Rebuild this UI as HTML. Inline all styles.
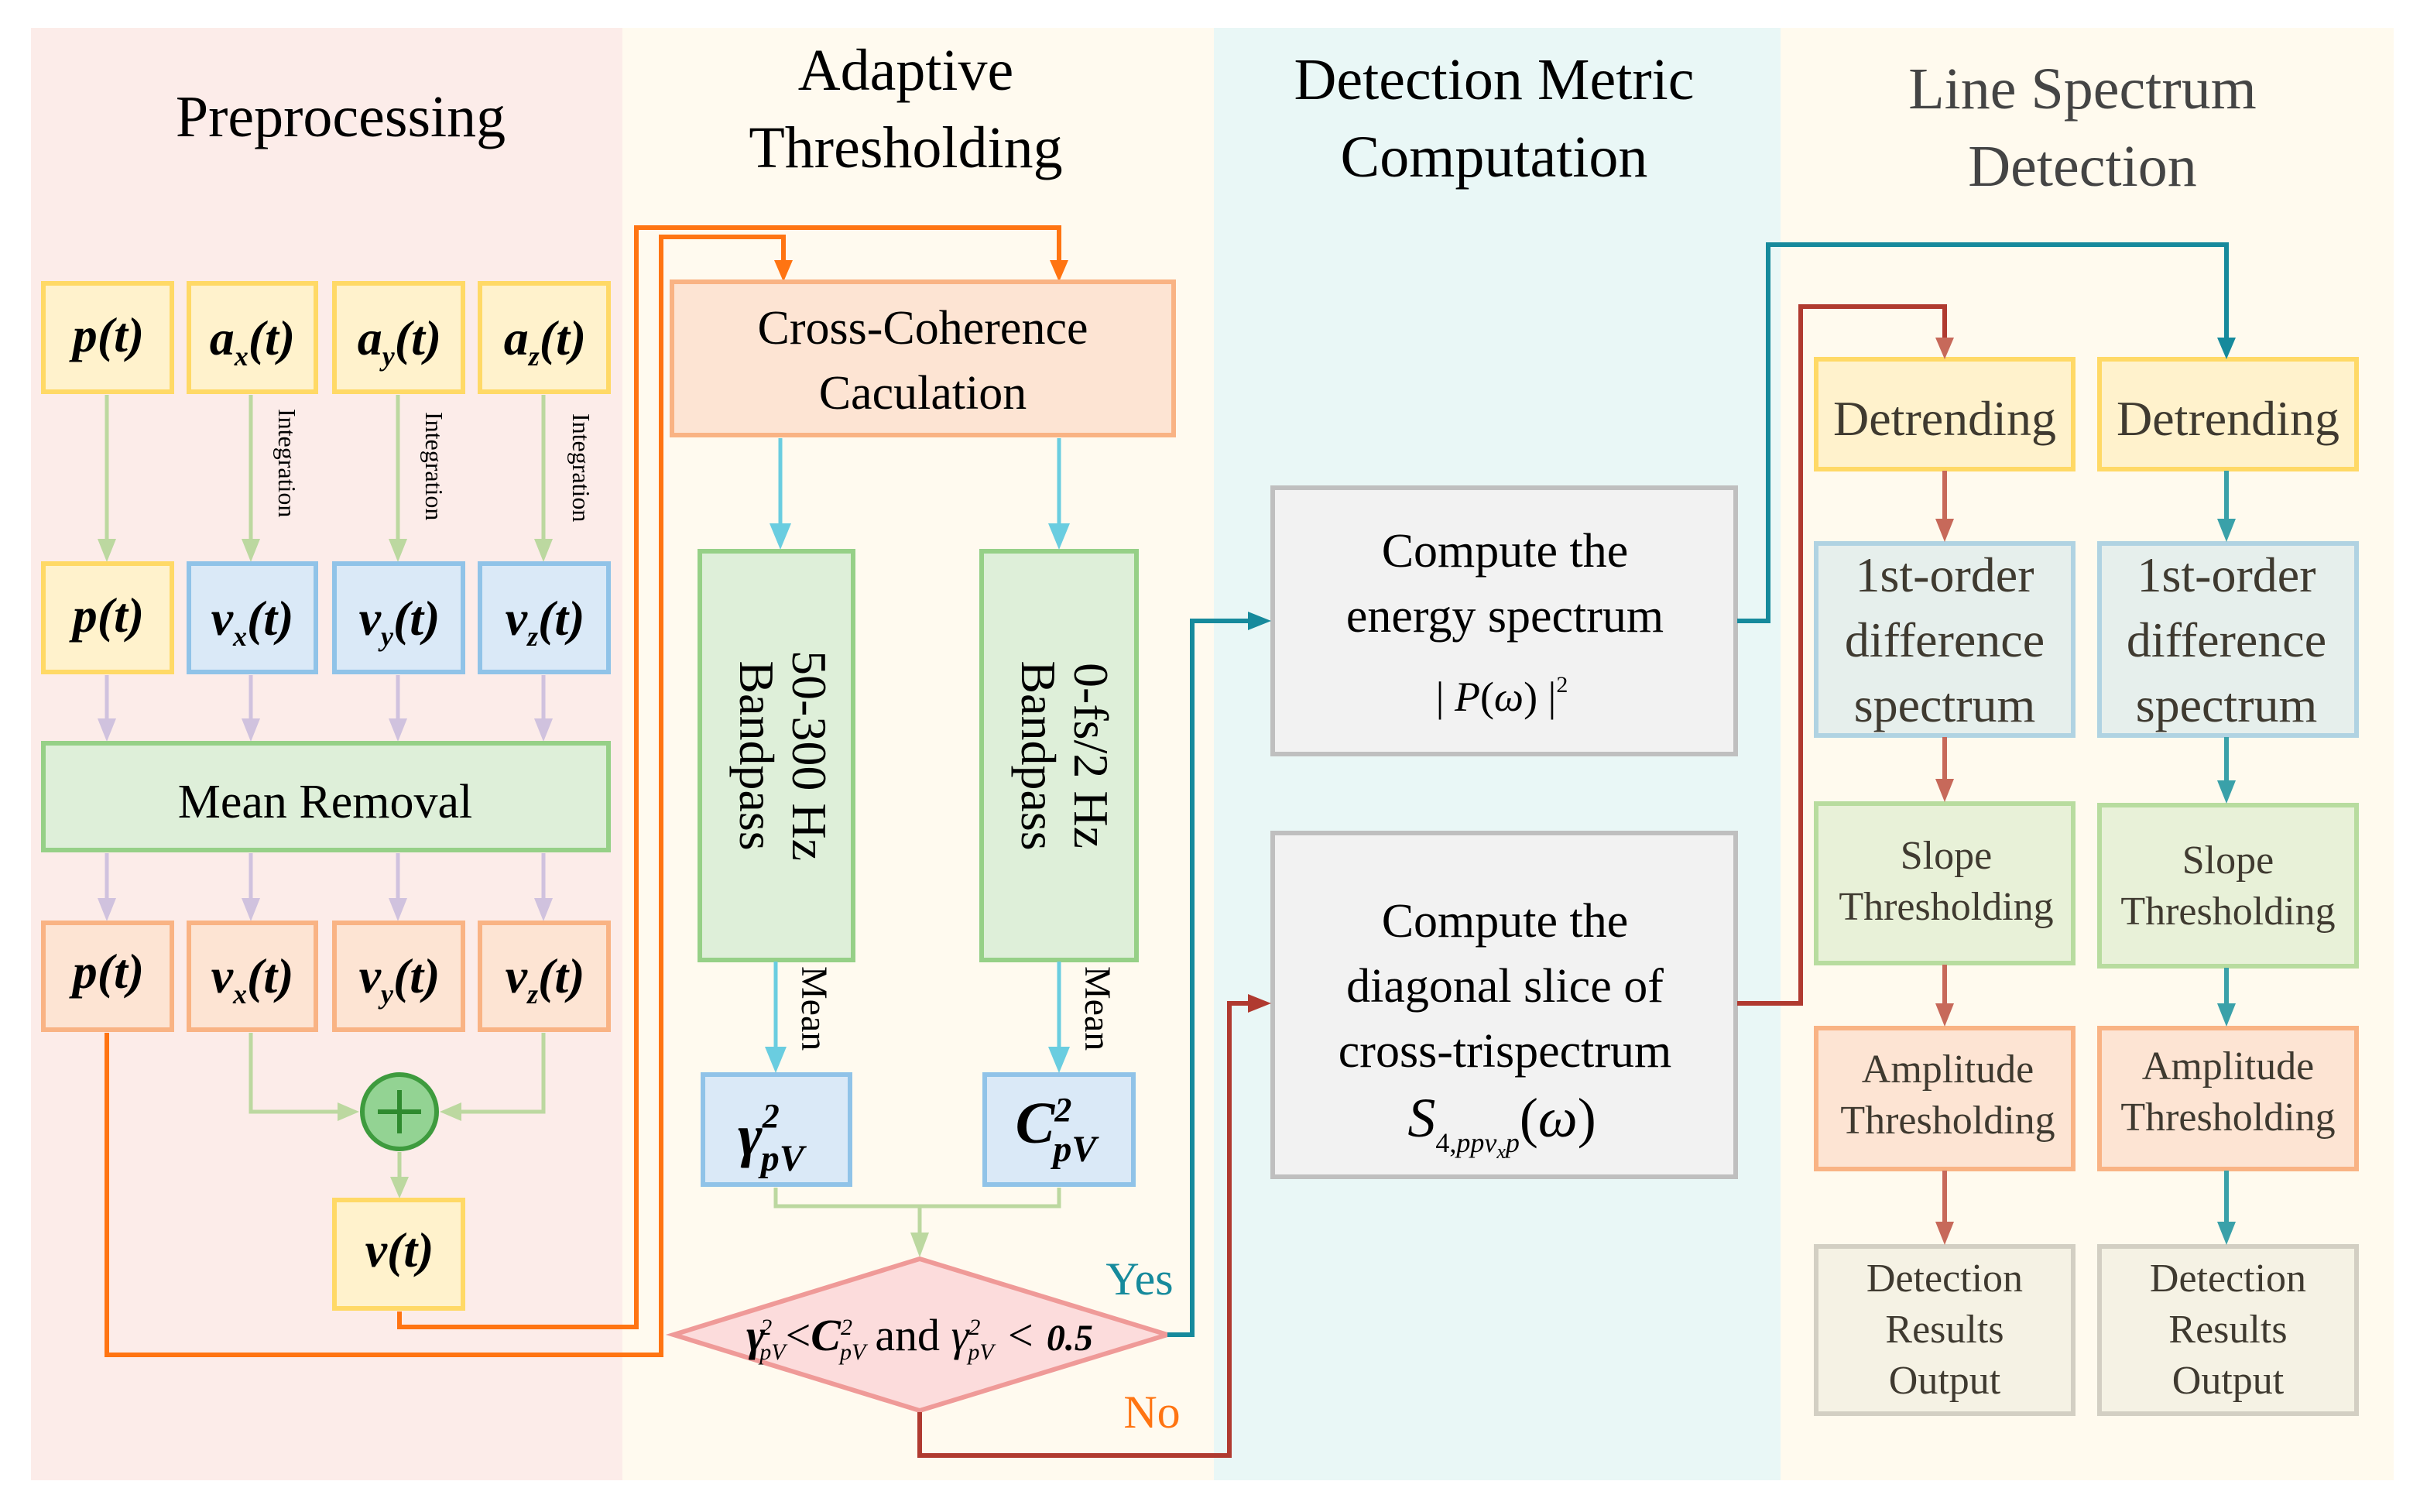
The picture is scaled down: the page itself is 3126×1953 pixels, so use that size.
<!DOCTYPE html>
<html><head><meta charset="utf-8"><style>
html,body{margin:0;padding:0;background:#fff;}
svg{display:block;}
svg, svg text{font-family:"Liberation Serif","Times New Roman",Tinos,Times,"DejaVu Serif",serif;}
</style></head><body>
<svg width="3126" height="1953" viewBox="0 0 1563 976.5" xmlns="http://www.w3.org/2000/svg" font-family="'Liberation Serif','Times New Roman',Times,serif">
<rect width="1563" height="977" fill="#fff"/>
<rect x="20" y="18" width="382" height="938" fill="#fcece9"/>
<rect x="402" y="18" width="382" height="938" fill="#fffaef"/>
<rect x="784" y="18" width="366" height="938" fill="#e9f7f6"/>
<rect x="1150" y="18" width="396" height="938" fill="#fffaee"/>

<g font-size="38" text-anchor="middle" fill="#000">
<text x="220" y="88">Preprocessing</text>
<text x="585" y="58">Adaptive</text>
<text x="585" y="108">Thresholding</text>
<text x="965" y="64">Detection Metric</text>
<text x="965" y="114">Computation</text>
<text x="1345" y="70" fill="#444">Line Spectrum</text>
<text x="1345" y="120" fill="#444">Detection</text>
</g>

<g stroke="#bcd8a0" stroke-width="2.5" fill="none">
<line x1="69" y1="255" x2="69" y2="350"/><line x1="162" y1="255" x2="162" y2="350"/><line x1="257" y1="255" x2="257" y2="350"/><line x1="351" y1="255" x2="351" y2="350"/>
<polyline points="162,667 162,718 222,718"/><polyline points="351,667 351,718 294,718"/>
<line x1="258" y1="744" x2="258" y2="762"/>
<polyline points="501,767 501,779 684,779 684,767"/><line x1="594" y1="779" x2="594" y2="800"/>
</g>
<g fill="#bcd8a0">
<path d="M63,348 L75,348 L69,363z"/><path d="M156,348 L168,348 L162,363z"/><path d="M251,348 L263,348 L257,363z"/><path d="M345,348 L357,348 L351,363z"/>
<path d="M218,712 L218,724 L232,718z"/><path d="M298,712 L298,724 L284,718z"/>
<path d="M252,760 L264,760 L258,774z"/><path d="M588,796 L600,796 L594,812z"/>
</g>
<g stroke="#d0c2de" stroke-width="2.5">
<line x1="69" y1="436" x2="69" y2="467"/><line x1="162" y1="436" x2="162" y2="467"/><line x1="257" y1="436" x2="257" y2="467"/><line x1="351" y1="436" x2="351" y2="467"/>
<line x1="69" y1="551" x2="69" y2="583"/><line x1="162" y1="551" x2="162" y2="583"/><line x1="257" y1="551" x2="257" y2="583"/><line x1="351" y1="551" x2="351" y2="583"/>
</g>
<g fill="#d0c2de">
<path d="M63,464 L75,464 L69,479z"/><path d="M156,464 L168,464 L162,479z"/><path d="M251,464 L263,464 L257,479z"/><path d="M345,464 L357,464 L351,479z"/>
<path d="M63,580 L75,580 L69,595z"/><path d="M156,580 L168,580 L162,595z"/><path d="M251,580 L263,580 L257,595z"/><path d="M345,580 L357,580 L351,595z"/>
</g>
<g font-size="16" fill="#000">
<text transform="translate(180,264) rotate(90)">Integration</text>
<text transform="translate(275,266) rotate(90)">Integration</text>
<text transform="translate(370,267) rotate(90)">Integration</text>
</g>

<g stroke="#ff7412" stroke-width="3" fill="none">
<polyline points="69,667 69,875 427,875 427,153 506,153 506,170"/>
<polyline points="258,847 258,857 411,857 411,147 684,147 684,170"/>
</g>
<g fill="#ff7412"><path d="M500,168 L512,168 L506,182z"/><path d="M678,168 L690,168 L684,182z"/></g>

<g stroke-width="3">
<g fill="#fff2cc" stroke="#ffd966">
<rect x="28" y="183" width="83" height="70"/><rect x="122" y="183" width="82" height="70"/><rect x="216" y="183" width="83" height="70"/><rect x="310" y="183" width="83" height="70"/>
<rect x="28" y="364" width="83" height="70"/>
<rect x="216" y="775" width="83" height="70"/>
<rect x="1173" y="232" width="166" height="71"/><rect x="1356" y="232" width="166" height="71"/>
</g>
<g fill="#dae9f7" stroke="#90c3e8">
<rect x="122" y="364" width="82" height="70"/><rect x="216" y="364" width="83" height="70"/><rect x="310" y="364" width="83" height="70"/>
<rect x="454" y="694" width="95" height="71"/><rect x="636" y="694" width="96" height="71"/>
</g>
<g fill="#deefd9" stroke="#96d087">
<rect x="28" y="480" width="365" height="69"/>
<rect x="452" y="356" width="99" height="264"/><rect x="634" y="356" width="100" height="264"/>
</g>
<g fill="#fde4d3" stroke="#f9b384">
<rect x="28" y="596" width="83" height="69"/><rect x="122" y="596" width="82" height="69"/><rect x="216" y="596" width="83" height="69"/><rect x="310" y="596" width="83" height="69"/>
<rect x="434" y="182" width="324" height="99"/>
<rect x="1173" y="664" width="166" height="91"/><rect x="1356" y="664" width="166" height="91"/>
</g>
<g fill="#f2f2f2" stroke="#bfbfbf">
<rect x="822" y="315" width="299" height="172"/><rect x="822" y="538" width="299" height="222"/>
</g>
<g fill="#e6efec" stroke="#b0d3e2">
<rect x="1173" y="351" width="166" height="124"/><rect x="1356" y="351" width="166" height="124"/>
</g>
<g fill="#e8f1d8" stroke="#b8dc9f">
<rect x="1173" y="519" width="166" height="103"/><rect x="1356" y="520" width="166" height="104"/>
</g>
<g fill="#f5f2e4" stroke="#d3cfc3">
<rect x="1173" y="805" width="166" height="108"/><rect x="1356" y="805" width="166" height="108"/>
</g>
<circle cx="258" cy="718" r="24" fill="#93d393" stroke="#3e9b3e"/>
</g>
<path d="M594,813 L754,862 L594,911 L435,862z" fill="#fcdcdc" stroke="#ef9a98" stroke-width="3"/>
<g stroke="#2f8a2f" stroke-width="3"><line x1="244" y1="718" x2="272" y2="718"/><line x1="258" y1="704" x2="258" y2="732"/></g>

<g stroke="#6acde0" stroke-width="2.5">
<line x1="504" y1="283" x2="504" y2="342"/><line x1="684" y1="283" x2="684" y2="342"/>
<line x1="501" y1="621" x2="501" y2="680"/><line x1="684" y1="621" x2="684" y2="680"/>
</g>
<g fill="#6acde0">
<path d="M497,338 L511,338 L504,355z"/><path d="M677,338 L691,338 L684,355z"/>
<path d="M494,676 L508,676 L501,693z"/><path d="M677,676 L691,676 L684,693z"/>
</g>
<g font-size="24" fill="#000">
<text transform="translate(518,624) rotate(90)">Mean</text>
<text transform="translate(701,624) rotate(90)">Mean</text>
</g>

<g stroke="#168a9c" stroke-width="3" fill="none">
<polyline points="754,862 770,862 770,401 808,401"/>
<polyline points="1122,401 1142,401 1142,158 1438,158 1438,220"/>
</g>
<g fill="#168a9c"><path d="M806,395 L806,407 L821,401z"/><path d="M1432,218 L1444,218 L1438,232z"/></g>
<g stroke="#b03a30" stroke-width="3" fill="none">
<polyline points="594,912 594,940 794,940 794,648 808,648"/>
<polyline points="1122,648 1163,648 1163,198 1256,198 1256,220"/>
</g>
<g fill="#b03a30"><path d="M806,642 L806,654 L821,648z"/></g>
<g fill="#c7695a"><path d="M1250,218 L1262,218 L1256,232z"/></g>

<g stroke="#c7695a" stroke-width="3">
<line x1="1256" y1="304" x2="1256" y2="338"/><line x1="1256" y1="476" x2="1256" y2="506"/><line x1="1256" y1="623" x2="1256" y2="651"/><line x1="1256" y1="756" x2="1256" y2="792"/>
</g>
<g fill="#c7695a">
<path d="M1250,335 L1262,335 L1256,350z"/><path d="M1250,503 L1262,503 L1256,518z"/><path d="M1250,648 L1262,648 L1256,663z"/><path d="M1250,789 L1262,789 L1256,804z"/>
</g>
<g stroke="#3aa1a9" stroke-width="3">
<line x1="1438" y1="304" x2="1438" y2="338"/><line x1="1438" y1="476" x2="1438" y2="507"/><line x1="1438" y1="625" x2="1438" y2="651"/><line x1="1438" y1="756" x2="1438" y2="792"/>
</g>
<g fill="#3aa1a9">
<path d="M1432,335 L1444,335 L1438,350z"/><path d="M1432,504 L1444,504 L1438,519z"/><path d="M1432,648 L1444,648 L1438,663z"/><path d="M1432,789 L1444,789 L1438,804z"/>
</g>

<g font-size="32" font-weight="bold" font-style="italic" text-anchor="middle" fill="#000">
<text x="70" y="227">p(t)</text>
<text x="70" y="408">p(t)</text>
<text x="70" y="638">p(t)</text>
<text x="258" y="818">v(t)</text>
<text x="163" y="229">a<tspan font-size="18" dy="7">x</tspan><tspan dy="-7">(t)</tspan></text>
<text x="258" y="229">a<tspan font-size="18" dy="7">y</tspan><tspan dy="-7">(t)</tspan></text>
<text x="352" y="229">a<tspan font-size="18" dy="7">z</tspan><tspan dy="-7">(t)</tspan></text>
<text x="163" y="410">v<tspan font-size="18" dy="7">x</tspan><tspan dy="-7">(t)</tspan></text>
<text x="258" y="410">v<tspan font-size="18" dy="7">y</tspan><tspan dy="-7">(t)</tspan></text>
<text x="352" y="410">v<tspan font-size="18" dy="7">z</tspan><tspan dy="-7">(t)</tspan></text>
<text x="163" y="641">v<tspan font-size="18" dy="7">x</tspan><tspan dy="-7">(t)</tspan></text>
<text x="258" y="641">v<tspan font-size="18" dy="7">y</tspan><tspan dy="-7">(t)</tspan></text>
<text x="352" y="641">v<tspan font-size="18" dy="7">z</tspan><tspan dy="-7">(t)</tspan></text>
<text x="498" y="746" font-size="38">γ<tspan font-size="22" dy="-18">2</tspan><tspan font-size="24" dx="-12" dy="28">pV</tspan></text>
<text x="682" y="738" font-size="38">C<tspan font-size="22" dy="-14">2</tspan><tspan font-size="24" dx="-12" dy="26">pV</tspan></text>
</g>
<text x="594" y="872" font-size="29" text-anchor="middle" fill="#000"><tspan font-style="italic" font-weight="bold">γ</tspan><tspan font-size="15" font-style="italic" dy="-10" dx="-3">2</tspan><tspan font-size="15" font-style="italic" dy="16" dx="-8">pV</tspan><tspan dy="-6">&lt;</tspan><tspan font-style="italic" font-weight="bold">C</tspan><tspan font-size="15" font-style="italic" dy="-10">2</tspan><tspan font-size="15" font-style="italic" dy="16" dx="-8">pV</tspan><tspan dy="-6" dx="6">and </tspan><tspan font-style="italic">γ</tspan><tspan font-size="15" font-style="italic" dy="-10">2</tspan><tspan font-size="15" font-style="italic" dy="16" dx="-8">pV</tspan><tspan dy="-6" font-style="italic"> &lt; </tspan><tspan font-style="italic" font-weight="bold" font-size="24">0.5</tspan></text>

<g text-anchor="middle" fill="#000">
<text x="596" y="222" font-size="31">Cross-Coherence</text>
<text x="596" y="264" font-size="31">Caculation</text>
<text x="210" y="528" font-size="31">Mean Removal</text>
<text transform="translate(512,488) rotate(90)" font-size="32">50-300 Hz</text>
<text transform="translate(478,488) rotate(90)" font-size="32">Bandpass</text>
<text transform="translate(694,488) rotate(90)" font-size="32">0-fs/2 Hz</text>
<text transform="translate(660,488) rotate(90)" font-size="32">Bandpass</text>
<text x="972" y="366" font-size="31">Compute the</text>
<text x="972" y="408" font-size="31">energy spectrum</text>
<text x="970" y="459" font-size="27">| <tspan font-style="italic">P</tspan>(<tspan font-style="italic">ω</tspan>) |<tspan font-size="15" dy="-12">2</tspan></text>
<text x="972" y="605" font-size="31">Compute the</text>
<text x="972" y="647" font-size="31">diagonal slice of</text>
<text x="972" y="689" font-size="31">cross-trispectrum</text>
<text x="970" y="734" font-size="36"><tspan font-style="italic">S</tspan><tspan font-size="18" dy="10">4,</tspan><tspan font-size="18" font-style="italic">ppv</tspan><tspan font-size="13" font-style="italic" dy="4">x</tspan><tspan font-size="18" font-style="italic" dy="-4">p</tspan><tspan dy="-10">(</tspan><tspan font-style="italic">ω</tspan>)</text>
</g>
<text x="736" y="836" font-size="30" fill="#168a9c" text-anchor="middle">Yes</text>
<text x="744" y="922" font-size="30" fill="#ff7412" text-anchor="middle">No</text>

<g text-anchor="middle" fill="#3f3a30">
<g font-size="32">
<text x="1256" y="281">Detrending</text><text x="1439" y="281">Detrending</text>
<text x="1256" y="382">1st-order</text><text x="1256" y="424">difference</text><text x="1256" y="466">spectrum</text>
<text x="1438" y="382">1st-order</text><text x="1438" y="424">difference</text><text x="1438" y="466">spectrum</text>
</g>
<g font-size="26">
<text x="1257" y="561">Slope</text><text x="1257" y="594">Thresholding</text>
<text x="1439" y="564">Slope</text><text x="1439" y="597">Thresholding</text>
<text x="1258" y="699">Amplitude</text><text x="1258" y="732">Thresholding</text>
<text x="1439" y="697">Amplitude</text><text x="1439" y="730">Thresholding</text>
<text x="1256" y="834">Detection</text><text x="1256" y="867">Results</text><text x="1256" y="900">Output</text>
<text x="1439" y="834">Detection</text><text x="1439" y="867">Results</text><text x="1439" y="900">Output</text>
</g>
</g>
</svg>
</body></html>
